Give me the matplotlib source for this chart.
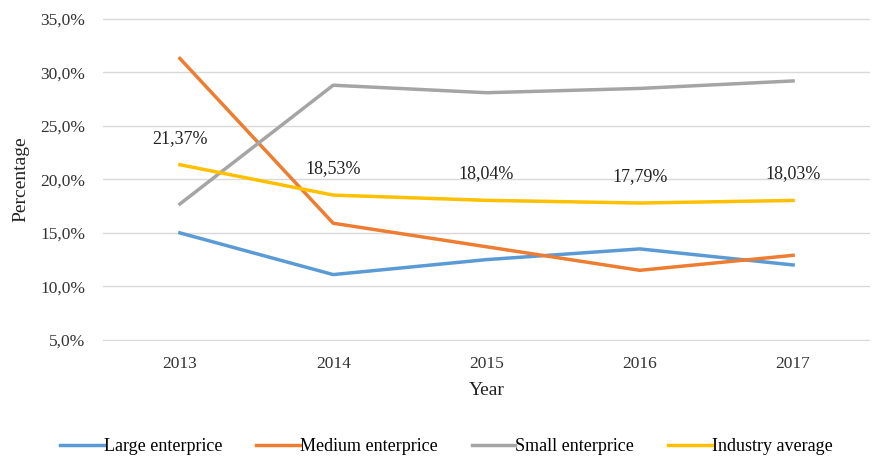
import matplotlib
matplotlib.use("Agg")
from matplotlib import pyplot as plt
from matplotlib.ticker import FuncFormatter

years = ["2013", "2014", "2015", "2016", "2017"]
large = [15.0, 11.1, 12.5, 13.5, 12.0]
medium = [31.3, 15.9, 13.7, 11.5, 12.9]
small = [17.7, 28.8, 28.1, 28.5, 29.2]
industry = [21.37, 18.53, 18.04, 17.79, 18.03]
industry_labels = ["21,37%", "18,53%", "18,04%", "17,79%", "18,03%"]

plt.rcParams['font.family'] = ['Liberation Serif', 'DejaVu Serif']

fig = plt.figure(figsize=(8.75, 4.57), dpi=100)
ax = fig.add_axes([0.118, 0.254, 0.876, 0.707])

x = list(range(len(years)))
lw = 2.5
ax.plot(x, large, color='#5B9BD5', lw=lw, label='Large enterprice')
ax.plot(x, medium, color='#ED7D31', lw=lw, label='Medium enterprice')
ax.plot(x, small, color='#A5A5A5', lw=lw, label='Small enterprice')
ax.plot(x, industry, color='#FFC000', lw=lw, label='Industry average')

for xi, v, t in zip(x, industry, industry_labels):
    ax.annotate(t, (xi, v), xytext=(0, 13), textcoords='offset points',
                ha='center', va='bottom', fontsize=13, color='#222222')

ax.set_xlim(-0.5, len(years) - 0.5)
ax.set_ylim(4.9, 35.1)
ax.set_yticks([5, 10, 15, 20, 25, 30, 35])
ax.yaxis.set_major_formatter(FuncFormatter(lambda v, p: ("%.1f%%" % v).replace('.', ',')))
ax.set_xticks(x)
ax.set_xticklabels(years)
ax.grid(axis='y', color='#D9D9D9', lw=1)
ax.set_axisbelow(True)
for s in ax.spines.values():
    s.set_visible(False)
ax.tick_params(length=0, labelsize=12.5, colors='#333333')
ax.tick_params(axis='x', pad=11)
ax.tick_params(axis='y', pad=13)
ax.set_xlabel('Year', fontsize=14, color='#222222', labelpad=7)
ax.set_ylabel('Percentage', fontsize=14, color='#222222', labelpad=8)

fig.legend(loc='lower center', bbox_to_anchor=(0.51, -0.032), ncol=4, frameon=False,
           fontsize=13, handlelength=2.4, handletextpad=0.0, columnspacing=1.9)

fig.savefig('out.png', dpi=100)
